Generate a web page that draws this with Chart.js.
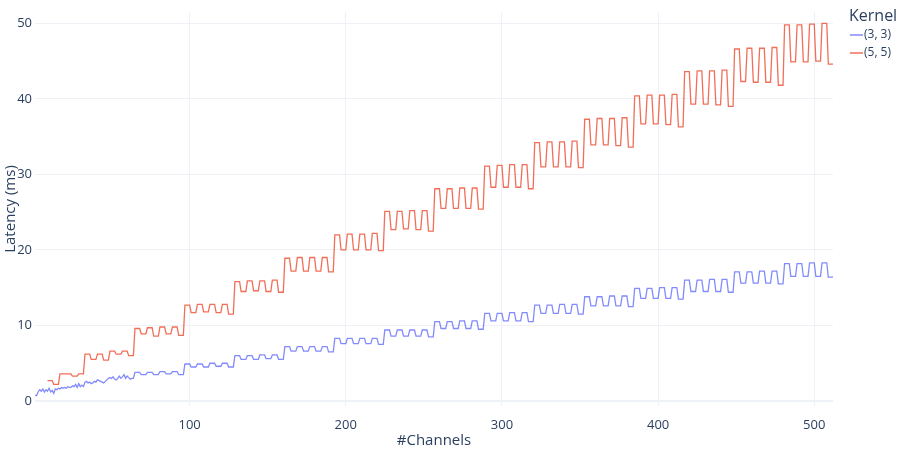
<!DOCTYPE html>
<html>
<head>
<meta charset="utf-8">
<script src="https://cdn.jsdelivr.net/npm/chart.js@4.4.1/dist/chart.umd.min.js"></script>
<style>
  body { margin: 0; background: #fff; }
  #wrap { width: 898px; height: 452px; }
</style>
</head>
<body>
<div id="wrap"><canvas id="latency-chart" width="898" height="452"></canvas></div>
<script>
// latency vs channel count, one line per kernel size
const seriesNames = ['(3, 3)', '(5, 5)'];
const xTicks = [100, 200, 300, 400, 500];
const yTicks = [0, 10, 20, 30, 40, 50];

// first channel of each 4-channel run (the curves hold a level over each run)
const channelRuns = [
  1, 5, 9, 13, 17, 21, 25, 29,
  33, 37, 41, 45, 49, 53, 57, 61,
  65, 69, 73, 77, 81, 85, 89, 93,
  97, 101, 105, 109, 113, 117, 121, 125,
  129, 133, 137, 141, 145, 149, 153, 157,
  161, 165, 169, 173, 177, 181, 185, 189,
  193, 197, 201, 205, 209, 213, 217, 221,
  225, 229, 233, 237, 241, 245, 249, 253,
  257, 261, 265, 269, 273, 277, 281, 285,
  289, 293, 297, 301, 305, 309, 313, 317,
  321, 325, 329, 333, 337, 341, 345, 349,
  353, 357, 361, 365, 369, 373, 377, 381,
  385, 389, 393, 397, 401, 405, 409, 413,
  417, 421, 425, 429, 433, 437, 441, 445,
  449, 453, 457, 461, 465, 469, 473, 477,
  481, 485, 489, 493, 497, 501, 505, 509
];
const lastChannel = 512;

// (3, 3): channels 1..64 are noisy, read one by one
const blueFine = [
  0.8, 0.7, 1.2, 1.5, 1.3, 1.6, 1.2, 1.5, 1.3, 1.7, 1.2, 1.4, 1.0, 1.6, 1.5, 1.7,
  1.6, 1.8, 1.7, 1.8, 1.7, 1.9, 1.8, 1.8, 2.0, 1.9, 2.2, 1.8, 2.3, 1.9, 2.1, 1.9,
  2.5, 2.6, 2.4, 2.5, 2.3, 2.4, 2.6, 2.5, 2.8, 2.7, 2.6, 2.5, 2.4, 2.6, 2.8, 3.0,
  3.1, 3.0, 3.2, 2.9, 2.8, 3.0, 3.3, 3.0, 3.2, 3.5, 3.0, 3.3, 3.1, 2.9, 3.0, 3.0
];
// (3, 3) level per run, from channel 65 on
const blueRuns = [
  null, null, null, null, null, null, null, null,
  null, null, null, null, null, null, null, null,
  3.8, 3.5, 3.8, 3.5, 3.9, 3.6, 3.9, 3.5,
  4.9, 4.5, 4.9, 4.5, 5.0, 4.6, 5.0, 4.5,
  6.0, 5.5, 6.0, 5.5, 6.1, 5.6, 6.1, 5.5,
  7.2, 6.6, 7.2, 6.6, 7.2, 6.6, 7.2, 6.5,
  8.3, 7.6, 8.3, 7.6, 8.3, 7.6, 8.3, 7.5,
  9.4, 8.6, 9.4, 8.6, 9.4, 8.6, 9.4, 8.5,
  10.5, 9.6, 10.5, 9.6, 10.6, 9.6, 10.6, 9.5,
  11.6, 10.6, 11.6, 10.6, 11.7, 10.6, 11.7, 10.5,
  12.7, 11.6, 12.7, 11.6, 12.8, 11.6, 12.8, 11.5,
  13.8, 12.6, 13.8, 12.6, 13.9, 12.6, 13.9, 12.5,
  14.9, 13.6, 14.9, 13.6, 15.0, 13.6, 15.0, 13.5,
  16.0, 14.5, 16.0, 14.5, 16.1, 14.5, 16.1, 14.4,
  17.1, 15.6, 17.1, 15.6, 17.2, 15.6, 17.2, 15.5,
  18.2, 16.5, 18.2, 16.5, 18.3, 16.5, 18.3, 16.4
];
// (5, 5) level per run, starts at channel 9
const redRuns = [
  null, null, 2.7, 2.2, 3.6, 3.6, 3.3, 3.6,
  6.2, 5.5, 6.2, 5.4, 6.6, 6.2, 6.6, 6.0,
  9.6, 8.9, 9.7, 8.6, 9.8, 8.9, 9.8, 8.7,
  12.7, 11.7, 12.8, 11.8, 12.8, 11.7, 12.8, 11.5,
  15.8, 14.5, 15.9, 14.6, 15.9, 14.5, 16.0, 14.4,
  18.9, 17.2, 19.0, 17.2, 19.0, 17.2, 19.0, 17.1,
  22.0, 20.0, 22.1, 20.0, 22.1, 20.0, 22.2, 19.9,
  25.1, 22.7, 25.1, 22.8, 25.2, 22.7, 25.2, 22.5,
  28.1, 25.5, 28.1, 25.5, 28.2, 25.5, 28.2, 25.4,
  31.1, 28.3, 31.2, 28.3, 31.3, 28.3, 31.3, 28.1,
  34.2, 31.0, 34.3, 31.0, 34.3, 31.0, 34.4, 30.9,
  37.3, 33.9, 37.4, 33.9, 37.4, 33.8, 37.5, 33.6,
  40.4, 36.7, 40.5, 36.7, 40.5, 36.6, 40.6, 36.3,
  43.6, 39.3, 43.7, 39.3, 43.7, 39.2, 43.8, 39.0,
  46.6, 42.3, 46.7, 42.2, 46.7, 42.2, 46.8, 41.8,
  49.8, 44.9, 49.8, 44.9, 49.9, 45.0, 50.0, 44.6
];

const seriesColors = ['rgba(99, 110, 250, 0.8)', 'rgba(239, 85, 59, 0.85)'];
const textColor = '#2a3f5f';
const gridColor = '#eef1f6';
const font = '"Open Sans", "Noto Sans", sans-serif';

// expand run levels into points at first and last channel of every run
function runPoints(levels) {
  const pts = [];
  levels.forEach((v, i) => {
    if (v === null) return;
    const end = i + 1 < channelRuns.length ? channelRuns[i + 1] - 1 : lastChannel;
    pts.push({ x: channelRuns[i], y: v });
    pts.push({ x: end, y: v });
  });
  return pts;
}

const bluePoints = blueFine.map((v, i) => ({ x: i + 1, y: v })).concat(runPoints(blueRuns));
const redPoints = runPoints(redRuns);

const legendPlugin = {
  id: 'kernelLegend',
  afterDraw(chart) {
    const ctx = chart.ctx;
    ctx.save();
    ctx.fillStyle = textColor;
    ctx.textBaseline = 'middle';
    ctx.textAlign = 'left';
    ctx.font = '16px ' + font;
    ctx.fillText('Kernel', 849, 16);
    ctx.font = '12px ' + font;
    chart.data.datasets.forEach((ds, i) => {
      const y = 35 + i * 18;
      ctx.strokeStyle = ds.borderColor;
      ctx.lineWidth = 1.5;
      ctx.beginPath();
      ctx.moveTo(850, y);
      ctx.lineTo(863, y);
      ctx.stroke();
      ctx.fillText(ds.label, 864, y);
    });
    ctx.restore();
  }
};

new Chart(document.getElementById('latency-chart').getContext('2d'), {
  type: 'line',
  data: {
    datasets: [
      { label: seriesNames[0], data: bluePoints, borderColor: seriesColors[0] },
      { label: seriesNames[1], data: redPoints, borderColor: seriesColors[1] }
    ]
  },
  options: {
    responsive: false,
    animation: false,
    devicePixelRatio: 1,
    layout: { padding: { top: 12, right: 65, left: 0, bottom: 0 } },
    elements: {
      point: { radius: 0 },
      line: { borderWidth: 1.3, tension: 0 }
    },
    plugins: {
      legend: { display: false },
      tooltip: { enabled: false }
    },
    scales: {
      x: {
        type: 'linear',
        min: 1,
        max: 512,
        afterBuildTicks: s => { s.ticks = xTicks.map(v => ({ value: v })); },
        afterFit: s => { s.height = 46; },
        border: { display: false },
        grid: { color: gridColor, drawTicks: false },
        ticks: { color: textColor, font: { family: font, size: 13 }, padding: 11, maxRotation: 0 },
        title: { display: true, text: '#Channels', color: textColor, font: { family: font, size: 15 }, padding: { top: 0, bottom: 2 } }
      },
      y: {
        min: -0.66,
        max: 51.5,
        afterBuildTicks: s => { s.ticks = yTicks.map(v => ({ value: v })); },
        afterFit: s => { s.width = 35; },
        border: { display: false },
        grid: {
          color: gridColor,
          drawTicks: false,
          lineWidth: c => (c.tick && c.tick.value === 0 ? 2 : 1)
        },
        ticks: { color: textColor, font: { family: font, size: 13 }, padding: 3 },
        title: { display: true, text: 'Latency (ms)', color: textColor, font: { family: font, size: 15 }, padding: 2 }
      }
    }
  },
  plugins: [legendPlugin]
});
</script>
</body>
</html>
